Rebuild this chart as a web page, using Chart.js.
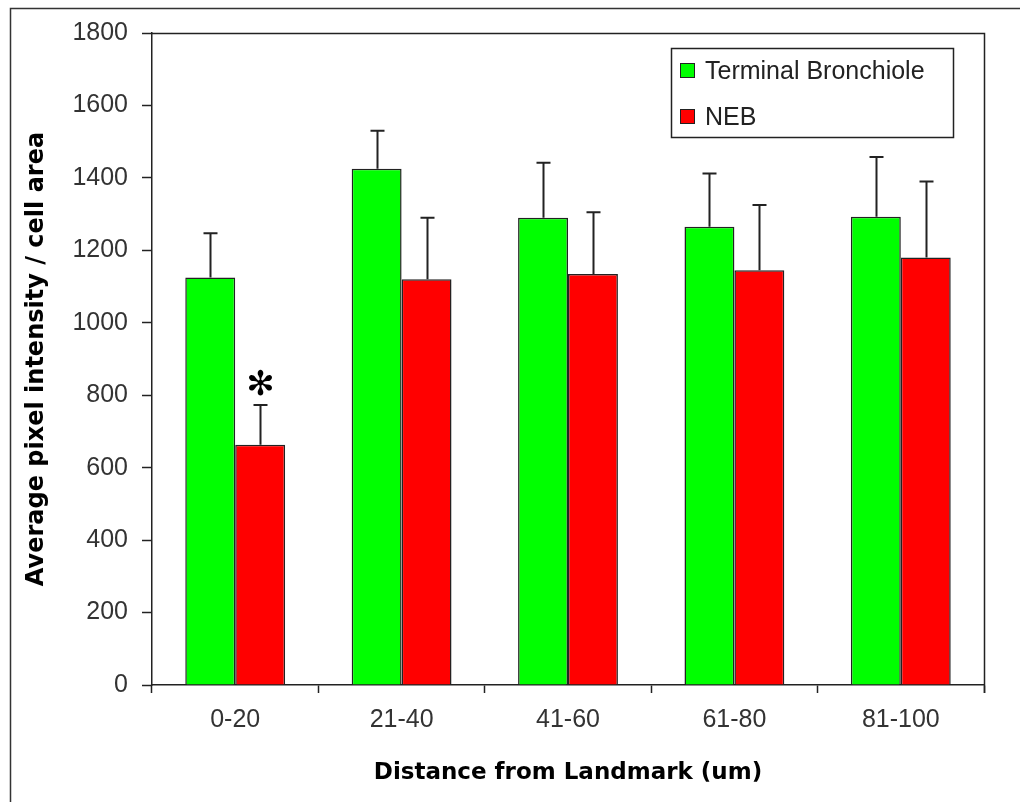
<!DOCTYPE html>
<html>
<head>
<meta charset="utf-8">
<script src="https://cdn.jsdelivr.net/npm/chart.js@4/dist/chart.umd.min.js"></script>
<style>
    html, body { margin: 0; padding: 0; background: #ffffff; }
    #wrap { width: 1020px; height: 802px; position: relative; }
</style>
</head>
<body>
<div id="wrap"><canvas id="distanceChart"></canvas></div>
<script>
    "use strict";

    // distance bins (um)
    const categories = ['0-20', '21-40', '41-60', '61-80', '81-100'];

    // mean pixel intensity / cell area, and the upper error (SD)
    const terminalValues = [1125, 1425, 1290, 1265, 1293];
    const terminalErrors = [122, 105, 152, 147, 165];
    const nebValues = [663, 1120, 1135, 1145, 1180];
    const nebErrors = [110, 170, 170, 180, 210];
    const nebMarks = ['✻', '', '', '', ''];

    const yTicks = [0, 200, 400, 600, 800, 1000, 1200, 1400, 1600, 1800];

    const seriesErrors = [terminalErrors, nebErrors];
    const seriesMarks = [null, nebMarks];

    const errorBarPlugin = {
        id: 'errorBars',
        afterDatasetsDraw: function(chart) {
            const ctx = chart.ctx;
            const yScale = chart.scales.y;
            ctx.save();
            ctx.strokeStyle = '#222';
            ctx.lineWidth = 2;
            chart.data.datasets.forEach(function(ds, i) {
                const meta = chart.getDatasetMeta(i);
                meta.data.forEach(function(bar, j) {
                    const top = yScale.getPixelForValue(ds.data[j] + seriesErrors[i][j]);
                    const x = Math.round(bar.x) + 0.5;
                    ctx.beginPath();
                    ctx.moveTo(x, bar.y);
                    ctx.lineTo(x, top);
                    ctx.moveTo(x - 7, top);
                    ctx.lineTo(x + 7, top);
                    ctx.stroke();
                    const marks = seriesMarks[i];
                    if (marks && marks[j]) {
                        ctx.fillStyle = '#000';
                        ctx.font = 'bold 34px "DejaVu Sans"';
                        ctx.textAlign = 'center';
                        ctx.textBaseline = 'alphabetic';
                        const m = ctx.measureText(marks[j]);
                        const h = m.actualBoundingBoxAscent + m.actualBoundingBoxDescent;
                        const cy = top - 23;
                        ctx.fillText(marks[j], x, cy + h / 2 - m.actualBoundingBoxDescent);
                    }
                });
            });
            ctx.restore();
        }
    };

    const framePlugin = {
        id: 'frame',
        beforeDraw: function(chart) {
            const ctx = chart.ctx;
            ctx.save();
            ctx.fillStyle = '#fff';
            ctx.fillRect(0, 0, chart.width, chart.height);
            ctx.strokeStyle = '#333';
            ctx.lineWidth = 1.5;
            ctx.beginPath();
            ctx.moveTo(10.5, chart.height);
            ctx.lineTo(10.5, 8.5);
            ctx.lineTo(chart.width, 8.5);
            ctx.stroke();
            ctx.restore();
        },
        afterDraw: function(chart) {
            const ctx = chart.ctx;
            const area = chart.chartArea;
            ctx.save();
            ctx.strokeStyle = '#222';
            ctx.lineWidth = 1.5;
            // top and right edge of the plot box
            ctx.beginPath();
            ctx.moveTo(area.left, area.top + 0.5);
            ctx.lineTo(area.right + 0.5, area.top + 0.5);
            ctx.lineTo(area.right + 0.5, area.bottom + 8);
            ctx.stroke();

            // legend
            const lx = 671, ly = 48, lw = 282, lh = 89;
            ctx.fillStyle = '#fff';
            ctx.fillRect(lx, ly, lw, lh);
            ctx.strokeRect(lx + 0.5, ly + 0.5, lw, lh);
            ctx.font = '25px "Liberation Sans"';
            ctx.textAlign = 'left';
            ctx.textBaseline = 'middle';
            chart.data.datasets.forEach(function(ds, i) {
                const cy = 71 + i * 46;
                ctx.fillStyle = ds.backgroundColor;
                ctx.fillRect(680, cy - 8, 15, 15);
                ctx.lineWidth = 1;
                ctx.strokeStyle = '#222';
                ctx.strokeRect(680.5, cy - 7.5, 14, 14);
                ctx.fillStyle = '#222';
                ctx.fillText(ds.label, 705, cy + 1);
            });
            ctx.restore();
        }
    };

    const ctx = document.getElementById('distanceChart').getContext('2d');
    new Chart(ctx, {
        type: 'bar',
        data: {
            labels: categories,
            datasets: [{
                label: 'Terminal Bronchiole',
                data: terminalValues,
                backgroundColor: '#00ff00',
                borderColor: '#222',
                borderWidth: 1.5
            }, {
                label: 'NEB',
                data: nebValues,
                backgroundColor: '#ff0000',
                borderColor: '#222',
                borderWidth: 1.5
            }]
        },
        options: {
            responsive: true,
            maintainAspectRatio: false,
            animation: false,
            devicePixelRatio: 1,
            layout: { padding: { top: 33, right: 36, left: 0, bottom: 0 } },
            datasets: {
                bar: { barPercentage: 1.0, categoryPercentage: 0.6, borderSkipped: 'bottom' }
            },
            plugins: {
                legend: { display: false },
                tooltip: { enabled: false }
            },
            scales: {
                x: {
                    grid: {
                        display: true,
                        drawOnChartArea: false,
                        offset: true,
                        tickLength: 8,
                        tickColor: '#222',
                        tickWidth: 1.5
                    },
                    border: { display: true, color: '#222', width: 1.5 },
                    ticks: {
                        color: '#333',
                        font: { family: 'Liberation Sans', size: 25 },
                        padding: 12,
                        maxRotation: 0
                    },
                    title: {
                        display: true,
                        text: 'Distance from Landmark (um)',
                        color: '#000',
                        font: { family: 'DejaVu Sans', size: 23, weight: 'bold' },
                        padding: { top: 0, bottom: 15 }
                    },
                    afterFit: function(scale) { scale.height = 117; }
                },
                y: {
                    min: 0,
                    max: 1800,
                    afterBuildTicks: function(scale) {
                        scale.ticks = yTicks.map(v => ({ value: v }));
                    },
                    grid: {
                        display: true,
                        drawOnChartArea: false,
                        tickLength: 10,
                        tickColor: '#222',
                        tickWidth: 1.5
                    },
                    border: { display: true, color: '#222', width: 1.5 },
                    ticks: {
                        color: '#333',
                        font: { family: 'Liberation Sans', size: 25 },
                        padding: 14,
                        callback: function(value) { return String(value); }
                    },
                    title: {
                        display: true,
                        text: 'Average pixel intensity / cell area',
                        color: '#000',
                        font: { family: 'DejaVu Sans', size: 24, weight: 'bold' },
                        padding: { top: 22, bottom: 0 }
                    },
                    afterFit: function(scale) { scale.width = 152; }
                }
            }
        },
        plugins: [framePlugin, errorBarPlugin]
    });
</script>
</body>
</html>
